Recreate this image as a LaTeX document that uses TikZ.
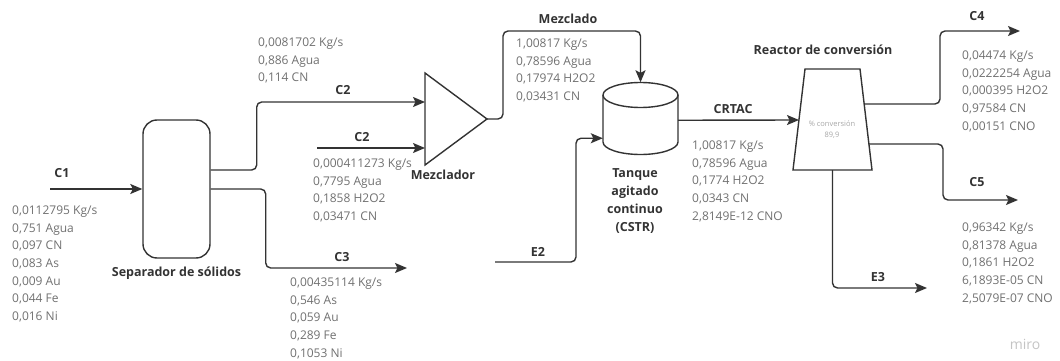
\documentclass[tikz,border=0pt]{standalone}
\usepackage{fontspec}
\setmainfont{Open Sans}
\usepackage{xcolor}
\usetikzlibrary{arrows.meta,positioning}
\definecolor{flowink}{HTML}{333333}
\definecolor{datagray}{HTML}{707070}
\definecolor{mirogray}{HTML}{C4C4C4}

\begin{document}
\begin{tikzpicture}[
  x=1pt,y=-1pt,
  >={Stealth[length=12pt,width=10pt,inset=2.5pt]},
  flow/.style={->,draw=flowink,line width=1.4pt,rounded corners=5pt},
  unitbox/.style={draw=flowink,line width=1.4pt,inner sep=0pt},
  streamlbl/.style={font=\fontsize{12.5}{15}\selectfont\bfseries,text=flowink,inner sep=0pt},
  datalbl/.style={font=\fontsize{12}{17.7}\selectfont,text=datagray,align=left,
    anchor=north west,inner sep=0pt}
]
  \useasboundingbox (0,0) rectangle (1060,361);

  % unit operations
  \node[unitbox,rounded corners=14pt,minimum width=67pt,minimum height=138pt]
    (sep) at (176.5,189) {};
  \node[streamlbl,below=8pt of sep] (seplbl) {Separador de sólidos};

  \coordinate (mixtop) at (425,73);
  \coordinate (mixbot) at (425,165);
  \coordinate (mixapex) at (487,119);
  \draw[flowink,line width=1.4pt] (mixtop) -- (mixapex) -- (mixbot) -- cycle;
  \node[streamlbl] (mixlbl) at (443,175) {Mezclador};

  \node[minimum width=75pt,minimum height=72.5pt,inner sep=0pt] (tank) at (640.5,118.75) {};
  \draw[flowink,line width=1.4pt] (603,95) -- (603,142)
    arc[start angle=180,end angle=0,x radius=37.5,y radius=12.5] -- (678,95);
  \draw[flowink,line width=1.4pt] (640.5,95) ellipse[x radius=37.5,y radius=12.5];
  \node[streamlbl,align=center,font=\fontsize{12.5}{17.7}\selectfont\bfseries]
    (tanklbl) at (635,201) {Tanque\\agitado\\continuo\\(CSTR)};

  \node[minimum width=79pt,minimum height=101pt,inner sep=0pt] (reactor) at (832.5,119.5) {};
  \draw[flowink,line width=1.4pt] (805,69) -- (860,69) -- (872,170) -- (793,170) -- cycle;
  \node[font=\fontsize{7.5}{11.5}\selectfont,text=mirogray!85!black,align=center,inner sep=0pt]
    (reactxt) at (832,129.5) {\% conversión\\89,9};
  \node[streamlbl] (reaclbl) at (823,50) {Reactor de conversión};

  % free ends and border points
  \coordinate (c1in) at (50,189);
  \coordinate (mixin1) at (425,102);
  \coordinate (c2in) at (317,148);
  \coordinate (mixin2) at (425,148);
  \coordinate (c3out) at (407,268);
  \coordinate (e2in) at (495,262);
  \coordinate (reacin) at (799,120);
  \coordinate (reac4) at (864,104);
  \coordinate (reac5) at (869,144);
  \coordinate (c4out) at (1020,31);
  \coordinate (c5out) at (1018,200);
  \coordinate (e3out) at (927,288);

  % streams
  \draw[flow] (c1in) -- (sep);
  \draw[flow] ([yshift=19pt]sep.east) -- ++(46,0) |- (mixin1);
  \draw[flow] (c2in) -- (mixin2);
  \draw[flow] (sep.east) -- ++(55,0) |- (c3out);
  \draw[flow] (mixapex) -- ++(16,0) -- ++(0,-88) -| (tank.north);
  \draw[flow] (e2in) -- ++(81,0) |- ([yshift=-19.5pt]tank.west);
  \draw[flow] ([yshift=-1.5pt]tank.east) -- (reacin);
  \draw[flow] (reac4) -- ++(76,0) |- (c4out);
  \draw[flow] (reac5) -- ++(74,0) |- (c5out);
  \draw[flow] (reactor.south) |- (e3out);

  % stream names
  \node[streamlbl] (c1lbl) at (62,173) {C1};
  \node[streamlbl] (c2albl) at (343,90) {C2};
  \node[streamlbl] (c2blbl) at (362,137) {C2};
  \node[streamlbl] (c3lbl) at (342,257) {C3};
  \node[streamlbl] (mezlbl) at (568,19) {Mezclado};
  \node[streamlbl] (e2lbl) at (538,252) {E2};
  \node[streamlbl] (crtaclbl) at (733,109) {CRTAC};
  \node[streamlbl] (c4lbl) at (977,16) {C4};
  \node[streamlbl] (c5lbl) at (977,182) {C5};
  \node[streamlbl] (e3lbl) at (878,277) {E3};

  % compositions
  \node[datalbl] (c1data) at (12,205.5) {0,0112795 Kg/s\\0,751 Agua\\0,097 CN\\0,083 As\\0,009 Au\\0,044 Fe\\0,016 Ni};
  \node[datalbl] (c2adata) at (258,37.5) {0,0081702 Kg/s\\0,886 Agua\\0,114 CN};
  \node[datalbl] (c2bdata) at (313,158.5) {0,000411273 Kg/s\\0,7795 Agua\\0,1858 H2O2\\0,03471 CN};
  \node[datalbl] (c3data) at (290,277.5) {0,00435114 Kg/s\\0,546 As\\0,059 Au\\0,289 Fe\\0,1053 Ni};
  \node[datalbl] (mezdata) at (516,38.5) {1,00817 Kg/s\\0,78596 Agua\\0,17974 H2O2\\0,03431 CN};
  \node[datalbl] (crtacdata) at (692,140.5) {1,00817 Kg/s\\0,78596 Agua\\0,1774 H2O2\\0,0343 CN\\2,8149E-12 CNO};
  \node[datalbl] (c4data) at (962,50.5) {0,04474 Kg/s\\0,0222254 Agua\\0,000395 H2O2\\0,97584 CN\\0,00151 CNO};
  \node[datalbl] (c5data) at (962,222.5) {0,96342 Kg/s\\0,81378 Agua\\0,1861 H2O2\\6,1893E-05 CN\\2,5079E-07 CNO};

  \node[font=\fontsize{14}{16}\selectfont,text=mirogray,inner sep=0pt] (miro) at (1025,344) {miro};
\end{tikzpicture}
\end{document}
